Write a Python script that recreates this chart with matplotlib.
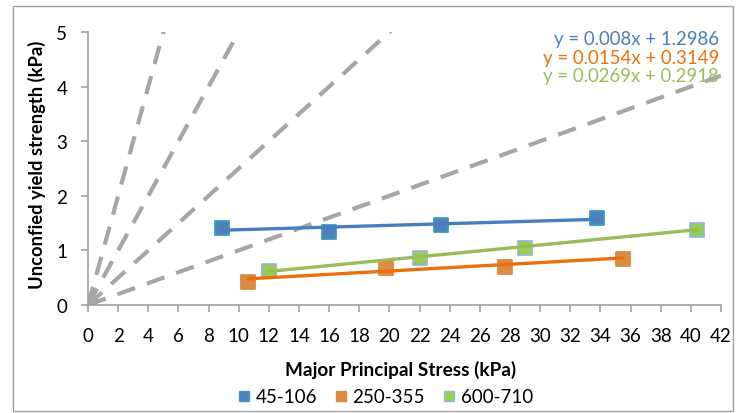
import matplotlib.pyplot as plt
import numpy as np
from matplotlib.patches import Rectangle

plt.rcParams['font.family'] = ['Lato', 'DejaVu Sans']

# measured points (major principal stress, unconfined yield strength)
s1_a = [8.9, 16.0, 23.4, 33.8]
fc_a = [1.41, 1.34, 1.47, 1.59]
s1_b = [10.6, 19.8, 27.7, 35.5]
fc_b = [0.43, 0.67, 0.69, 0.85]
s1_c = [12.0, 22.0, 29.0, 40.4]
fc_c = [0.62, 0.86, 1.05, 1.37]

labels = ['45-106', '250-355', '600-710']
fits = [(0.008, 1.2986), (0.0154, 0.3149), (0.0269, 0.2918)]
eq_text = ['y = 0.008x + 1.2986', 'y = 0.0154x + 0.3149', 'y = 0.0269x + 0.2918']

# flow function reference lines ffc = 1, 2, 4, 10
ffc = [1, 2, 4, 10]

face = ['#4f81bd', '#dd8a42', '#92d050']
edge = ['#3a9cb8', '#dd8a42', '#9bb3dd']
line_col = ['#4a7ebb', '#e8700d', '#9bbb59']
eq_col = ['#4a7ebb', '#e8700d', '#9bbb59']

fig = plt.figure(figsize=(7.36, 4.14), dpi=100)
ax = fig.add_axes([0.1196, 0.2609, 0.86, 0.6594])

fig.patches.append(Rectangle((13 / 736, 2 / 414), 720 / 736, 405 / 414, transform=fig.transFigure,
                             fill=False, edgecolor='#a0a0a0', lw=1.0))

xs = np.array([0, 42])
for f in ffc:
    ax.plot(xs, xs / f, color='#a6a6a6', lw=3, dashes=(4.5, 3), zorder=1)

series = [(s1_a, fc_a), (s1_b, fc_b), (s1_c, fc_c)]
for i, (sx, sy) in enumerate(series):
    m, b = fits[i]
    tx = np.array([min(sx), max(sx)])
    ax.plot(tx, m * tx + b, color=line_col[i], lw=2.4, zorder=3, solid_capstyle='round')
    ax.scatter(sx, sy, marker='s', s=115, c=face[i], edgecolors=edge[i], linewidths=1.3, zorder=2)

for i, t in enumerate(eq_text):
    ax.text(0.997, 0.975 - i * 0.067, t, transform=ax.transAxes, ha='right', va='center',
            color=eq_col[i], fontsize=13.4)

ax.set_xlim(0, 42)
ax.set_ylim(0, 5)
ax.set_xticks(range(0, 43, 2))
ax.set_yticks(range(0, 6))
ax.tick_params(labelsize=13.5, color='#a0a0a0', length=5, width=1.2)
ax.tick_params(axis='x', pad=11)
ax.tick_params(axis='y', pad=10)
for sp in ['top', 'right']:
    ax.spines[sp].set_visible(False)
for sp in ['left', 'bottom']:
    ax.spines[sp].set_color('#a0a0a0')
    ax.spines[sp].set_linewidth(1.2)

fig.text(0.544, 1 - 370 / 414, 'Major Principal Stress (kPa)', fontsize=13.7, fontweight='bold',
         ha='center', va='center')
fig.text(37 / 736, 1 - 165 / 414, 'Unconfied yield strength (kPa)', fontsize=13.2, fontweight='bold',
         ha='center', va='center', rotation=90)

leg_h = [plt.Line2D([], [], ls='', marker='s', markersize=7.5, markerfacecolor=face[i],
                    markeredgecolor=edge[i], markeredgewidth=1) for i in range(3)]
fig.legend(leg_h, labels, loc='center', bbox_to_anchor=(0.524, 1 - 398 / 414), ncol=3, frameon=False,
           fontsize=13.5, handlelength=0.6, handletextpad=0.3, columnspacing=1.0)

fig.savefig('out.png', dpi=100)
